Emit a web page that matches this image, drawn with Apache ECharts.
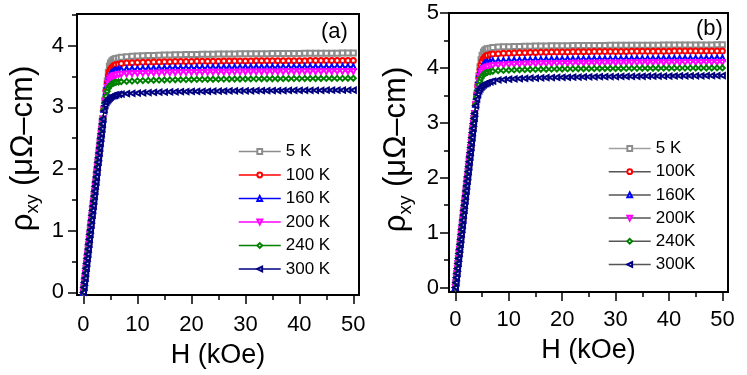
<!DOCTYPE html>
<html>
<head>
<meta charset="utf-8">
<script src="https://cdn.jsdelivr.net/npm/echarts@6/dist/echarts.min.js"></script>
<style>html,body{margin:0;padding:0;background:#fff}#c{width:747px;height:375px}</style>
</head>
<body>
<div id="c"></div>
<script>
// ---- field values (kOe) ----
const H_RISE = [0,0.1,0.2,0.3,0.4,0.5,0.6,0.7,0.8,0.9,1.0,1.1,1.2,1.3,1.4,1.5,1.6,1.7,1.8,1.9,2.0,2.1,2.2,2.3,2.4,2.5,2.6,2.7,2.8,2.9,3.0,3.1,3.2,3.3,3.4,3.5,3.6];
const H_KNEE = [3.8,4.0,4.2,4.4,4.6,4.8,5.0,5.25,5.5,5.75,6,6.5,7];
const H_FLAT = [8,9,10,11,12,13,14,15,16,17,18,19,20,21,22,23,24,25,26,27,28,29,30,31,32,33,34,35,36,37,38,39,40,41,42,43,44,45,46,47,48,49,50];

// ---- panel (a) ----
const aNames = ['5 K','100 K','160 K','200 K','240 K','300 K'];
const aRise = [0,0.08,0.16,0.23,0.31,0.39,0.47,0.55,0.62,0.70,0.78,0.86,0.94,1.01,1.09,1.17,1.25,1.33,1.40,1.48,1.56,1.64,1.72,1.79,1.87,1.95,2.03,2.11,2.18,2.26,2.34,2.42,2.50,2.57,2.65,2.73,2.81];
const a5Knee   = [2.97,3.12,3.28,3.43,3.57,3.67,3.72,3.75,3.77,3.78,3.79,3.80,3.81];
const a100Knee = [2.97,3.12,3.27,3.40,3.51,3.58,3.62,3.65,3.67,3.68,3.69,3.70,3.71];
const a160Knee = [2.97,3.11,3.25,3.36,3.45,3.51,3.54,3.565,3.58,3.59,3.60,3.61,3.615];
const a200Knee = [2.96,3.10,3.22,3.32,3.39,3.44,3.47,3.49,3.505,3.515,3.52,3.53,3.535];
const a240Knee = [2.96,3.08,3.18,3.26,3.31,3.34,3.36,3.38,3.39,3.40,3.405,3.41,3.415];
const a300Knee = [2.94,3.03,3.08,3.11,3.13,3.15,3.165,3.18,3.19,3.195,3.20,3.21,3.215];
const a5Flat = [3.820,3.826,3.831,3.835,3.839,3.842,3.845,3.847,3.849,3.851,3.853,3.855,3.857,3.858,3.859,3.860,3.861,3.863,3.864,3.865,3.866,3.867,3.867,3.868,3.869,3.870,3.870,3.871,3.872,3.872,3.873,3.873,3.874,3.875,3.875,3.876,3.876,3.877,3.878,3.878,3.879,3.879,3.880];
const a100Flat = [3.720,3.724,3.727,3.730,3.732,3.734,3.736,3.738,3.740,3.741,3.742,3.743,3.744,3.745,3.746,3.747,3.748,3.748,3.749,3.750,3.750,3.751,3.752,3.752,3.753,3.753,3.754,3.754,3.754,3.755,3.755,3.756,3.756,3.756,3.757,3.757,3.758,3.758,3.758,3.759,3.759,3.760,3.760];
const a160Flat = [3.620,3.624,3.627,3.630,3.632,3.634,3.636,3.638,3.640,3.641,3.642,3.643,3.644,3.645,3.646,3.647,3.648,3.648,3.649,3.650,3.650,3.651,3.652,3.652,3.653,3.653,3.654,3.654,3.654,3.655,3.655,3.656,3.656,3.656,3.657,3.657,3.658,3.658,3.658,3.659,3.659,3.660,3.660];
const a200Flat = [3.540,3.544,3.547,3.550,3.552,3.554,3.556,3.558,3.560,3.561,3.562,3.563,3.564,3.565,3.566,3.567,3.568,3.568,3.569,3.570,3.570,3.571,3.572,3.572,3.573,3.573,3.574,3.574,3.574,3.575,3.575,3.576,3.576,3.576,3.577,3.577,3.578,3.578,3.578,3.579,3.579,3.580,3.580];
const a240Flat = [3.420,3.425,3.429,3.433,3.436,3.438,3.441,3.443,3.445,3.446,3.448,3.449,3.451,3.452,3.453,3.454,3.455,3.456,3.457,3.458,3.458,3.459,3.460,3.460,3.461,3.462,3.462,3.463,3.463,3.464,3.464,3.465,3.465,3.466,3.466,3.467,3.467,3.468,3.468,3.469,3.469,3.470,3.470];
const a300Flat = [3.220,3.226,3.231,3.235,3.239,3.242,3.245,3.247,3.249,3.251,3.253,3.255,3.257,3.258,3.259,3.260,3.261,3.263,3.264,3.265,3.266,3.267,3.267,3.268,3.269,3.270,3.270,3.271,3.272,3.272,3.273,3.273,3.274,3.275,3.275,3.276,3.276,3.277,3.278,3.278,3.279,3.279,3.280];

// ---- panel (b) ----
const bNames = ['5 K','100K','160K','200K','240K','300K'];
const bRise = [0,0.09,0.18,0.26,0.35,0.44,0.53,0.62,0.70,0.79,0.88,0.97,1.06,1.14,1.23,1.32,1.41,1.50,1.58,1.67,1.76,1.85,1.94,2.02,2.11,2.20,2.29,2.38,2.46,2.55,2.64,2.73,2.82,2.90,2.99,3.08,3.17];
const b5Knee   = [3.34,3.52,3.69,3.86,4.02,4.15,4.23,4.29,4.32,4.34,4.35,4.36,4.37];
const b100Knee = [3.34,3.51,3.67,3.83,3.96,4.06,4.12,4.17,4.20,4.22,4.23,4.245,4.255];
const b160Knee = [3.34,3.50,3.65,3.79,3.90,3.97,4.02,4.06,4.08,4.095,4.105,4.115,4.125];
const b200Knee = [3.33,3.49,3.63,3.75,3.84,3.90,3.94,3.97,3.99,4.005,4.015,4.03,4.04];
const b240Knee = [3.33,3.47,3.59,3.69,3.76,3.81,3.85,3.88,3.90,3.91,3.92,3.93,3.94];
const b300Knee = [3.31,3.43,3.52,3.58,3.62,3.65,3.67,3.69,3.71,3.72,3.73,3.745,3.76];
const b5Flat = [4.380,4.384,4.387,4.390,4.392,4.394,4.396,4.398,4.400,4.401,4.402,4.403,4.404,4.405,4.406,4.407,4.408,4.408,4.409,4.410,4.410,4.411,4.412,4.412,4.413,4.413,4.414,4.414,4.414,4.415,4.415,4.416,4.416,4.416,4.417,4.417,4.418,4.418,4.418,4.419,4.419,4.420,4.420];
const b100Flat = [4.260,4.265,4.269,4.273,4.276,4.278,4.281,4.283,4.285,4.286,4.288,4.289,4.291,4.292,4.293,4.294,4.295,4.296,4.297,4.298,4.298,4.299,4.300,4.300,4.301,4.302,4.302,4.303,4.303,4.304,4.304,4.305,4.305,4.306,4.306,4.307,4.307,4.308,4.308,4.309,4.309,4.310,4.310];
const b160Flat = [4.130,4.135,4.139,4.143,4.146,4.148,4.151,4.153,4.155,4.156,4.158,4.159,4.161,4.162,4.163,4.164,4.165,4.166,4.167,4.168,4.168,4.169,4.170,4.170,4.171,4.172,4.172,4.173,4.173,4.174,4.174,4.175,4.175,4.176,4.176,4.177,4.177,4.178,4.178,4.179,4.179,4.180,4.180];
const b200Flat = [4.050,4.055,4.059,4.063,4.066,4.068,4.071,4.073,4.075,4.076,4.078,4.079,4.081,4.082,4.083,4.084,4.085,4.086,4.087,4.088,4.088,4.089,4.090,4.090,4.091,4.092,4.092,4.093,4.093,4.094,4.094,4.095,4.095,4.096,4.096,4.097,4.097,4.098,4.098,4.099,4.099,4.100,4.100];
const b240Flat = [3.950,3.955,3.959,3.963,3.966,3.968,3.971,3.973,3.975,3.976,3.978,3.979,3.981,3.982,3.983,3.984,3.985,3.986,3.987,3.988,3.988,3.989,3.990,3.990,3.991,3.992,3.992,3.993,3.993,3.994,3.994,3.995,3.995,3.996,3.996,3.997,3.997,3.998,3.998,3.999,3.999,4.000,4.000];
const b300Flat = [3.780,3.788,3.794,3.800,3.805,3.809,3.813,3.816,3.819,3.822,3.824,3.826,3.829,3.830,3.832,3.834,3.835,3.837,3.838,3.840,3.841,3.842,3.843,3.844,3.846,3.846,3.847,3.848,3.849,3.850,3.850,3.851,3.852,3.853,3.854,3.854,3.855,3.856,3.857,3.858,3.858,3.859,3.860];

// ---- ticks ----
const X_MAJOR = [0,10,20,30,40,50];
const X_MINOR = [5,15,25,35,45];
const YA_MAJOR = [0,1,2,3,4];
const YA_MINOR = [0.5,1.5,2.5,3.5,4.5];
const YB_MAJOR = [0,1,2,3,4,5];
const YB_MINOR = [0.5,1.5,2.5,3.5,4.5];

const COLORS = ['#8c8c8c','#ff0000','#0000ff','#ff00ff','#008000','#000080'];
const SYMBOLS = ['emptyRect','emptyCircle','emptyTriangle','emptyTriangle','emptyDiamond','emptyTriangle'];
const ROTS = [0,0,0,180,0,90];

const FONT = '"Liberation Sans", Arial, Helvetica, sans-serif';

function pts(rise, knee, flat) {
  const hs = H_RISE.concat(H_KNEE, H_FLAT);
  const vs = rise.concat(knee, flat);
  return hs.map((h, i) => [h, vs[i]]);
}
function mk(name, data, idx, axis) {
  return {
    type: 'line', name: name, data: data,
    xAxisIndex: axis, yAxisIndex: axis,
    symbol: SYMBOLS[idx], symbolRotate: ROTS[idx], symbolSize: 5,
    showSymbol: true, clip: false,
    lineStyle: { color: COLORS[idx], width: 1 },
    itemStyle: { color: COLORS[idx], borderWidth: 1 },
    emphasis: { disabled: true }, z: 2 + idx
  };
}
const aKnees = [a5Knee,a100Knee,a160Knee,a200Knee,a240Knee,a300Knee];
const aFlats = [a5Flat,a100Flat,a160Flat,a200Flat,a240Flat,a300Flat];
const bKnees = [b5Knee,b100Knee,b160Knee,b200Knee,b240Knee,b300Knee];
const bFlats = [b5Flat,b100Flat,b160Flat,b200Flat,b240Flat,b300Flat];

const series = [];
aNames.forEach((n, i) => series.push(mk(n, pts(aRise, aKnees[i], aFlats[i]), i, 0)));
bNames.forEach((n, i) => series.push(mk(n, pts(bRise, bKnees[i], bFlats[i]), i, 2)));

function xAxes(grid, name, gap, margin) {
  return [
    { type: 'value', gridIndex: grid, min: -1.2, max: 51.05, position: 'bottom',
      name: name, nameLocation: 'middle', nameGap: gap,
      nameTextStyle: { fontSize: 27, color: '#000', fontFamily: FONT },
      axisLine: { show: true, onZero: false, lineStyle: { color: '#000', width: 2 } },
      axisTick: { show: true, inside: false, length: 9, customValues: X_MAJOR, lineStyle: { color: '#000', width: 1.5 } },
      axisLabel: { show: true, customValues: X_MAJOR, margin: margin, fontSize: 22, color: '#000', fontFamily: FONT },
      splitLine: { show: false } },
    { type: 'value', gridIndex: grid, min: -1.2, max: 51.05, position: 'bottom', offset: 0,
      axisLine: { show: true, onZero: false, lineStyle: { opacity: 0 } },
      axisTick: { show: true, inside: false, length: 5, customValues: X_MINOR, lineStyle: { color: '#000', width: 1.5 } },
      axisLabel: { show: false }, splitLine: { show: false } }
  ];
}
const yName = '{r|ρ}{s|xy}{r| (μΩ–cm)}';
const yRich = {
  r: { fontSize: 31, fontFamily: FONT, color: '#000', lineHeight: 38 },
  s: { fontSize: 19, fontFamily: FONT, color: '#000', verticalAlign: 'bottom', lineHeight: 19 }
};
function yAxes(grid, min, max, major, minor, gap, margin, pad) {
  return [
    { type: 'value', gridIndex: grid, min: min, max: max, position: 'left',
      name: yName, nameLocation: 'middle', nameGap: gap,
      nameTextStyle: { rich: yRich, color: '#000', padding: [0, 0, 0, pad] },
      axisLine: { show: true, onZero: false, lineStyle: { color: '#000', width: 2 } },
      axisTick: { show: true, inside: false, length: 9, customValues: major, lineStyle: { color: '#000', width: 1.5 } },
      axisLabel: { show: true, customValues: major, margin: margin, fontSize: 22, color: '#000', fontFamily: FONT },
      splitLine: { show: false } },
    { type: 'value', gridIndex: grid, min: min, max: max, position: 'left', offset: 0,
      axisLine: { show: true, onZero: false, lineStyle: { opacity: 0 } },
      axisTick: { show: true, inside: false, length: 5, customValues: minor, lineStyle: { color: '#000', width: 1.5 } },
      axisLabel: { show: false }, splitLine: { show: false } }
  ];
}

function legend(names, left, top, gap, lineColors) {
  return {
    orient: 'vertical', left: left, top: top, itemWidth: 42, itemHeight: 6, itemGap: gap,
    selectedMode: false, padding: 0,
    textStyle: { fontSize: 17, color: '#000', fontFamily: FONT, lineHeight: 14 },
    data: names.map((n, i) => ({ name: n, lineStyle: { color: lineColors[i], width: 1.5 } }))
  };
}

const chart = echarts.init(document.getElementById('c'), null, { renderer: 'canvas' });
chart.setOption({
  animation: false,
  backgroundColor: '#fff',
  grid: [
    { left: 77, top: 14, width: 282, height: 281, show: true, borderColor: '#000', borderWidth: 2, backgroundColor: 'transparent' },
    { left: 449, top: 13, width: 279, height: 279, show: true, borderColor: '#000', borderWidth: 2, backgroundColor: 'transparent' }
  ],
  title: [
    { text: '(a)', left: 321, top: 21, padding: 0, textStyle: { fontSize: 22, fontWeight: 'normal', color: '#000', fontFamily: FONT } },
    { text: '(b)', left: 696, top: 18, padding: 0, textStyle: { fontSize: 22, fontWeight: 'normal', color: '#000', fontFamily: FONT } }
  ],
  xAxis: xAxes(0, 'H (kOe)', 47, 19).concat(xAxes(1, 'H (kOe)', 45, 17)),
  yAxis: yAxes(0, -0.044, 4.513, YA_MAJOR, YA_MINOR, 35, 13, 12).concat(yAxes(1, -0.08, 5, YB_MAJOR, YB_MINOR, 34, 10, 6)),
  legend: [
    legend(aNames, 238, 143, 6.5, COLORS),
    legend(bNames, 608, 140, 6.2, ['#a0a0a0','#555','#555','#555','#555','#555'])
  ],
  series: series
});
</script>
</body>
</html>
